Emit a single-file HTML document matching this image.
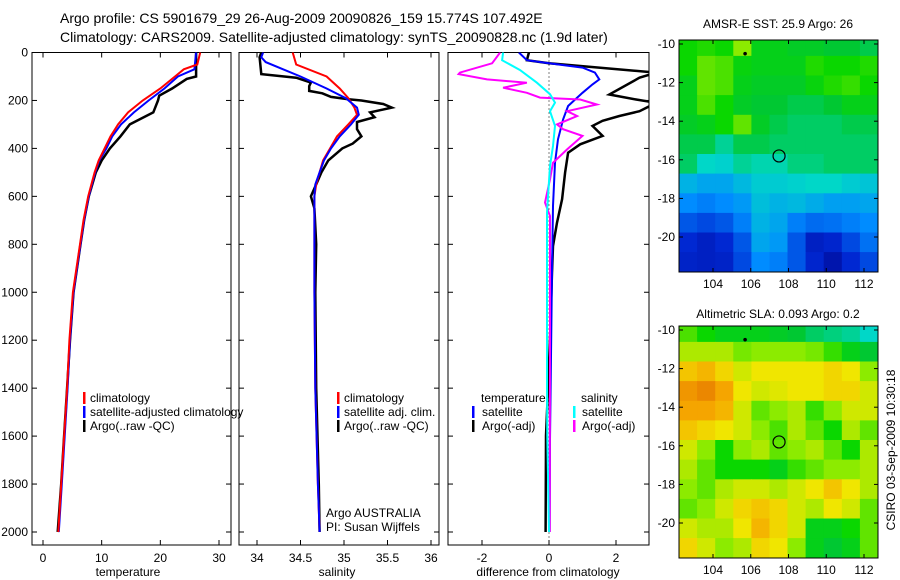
<!DOCTYPE html>
<html><head><meta charset="utf-8">
<style>
html,body{margin:0;padding:0;background:#fff;}
svg{display:block;font-family:"Liberation Sans",sans-serif;}
text{font-family:"Liberation Sans",sans-serif;}
</style></head>
<body>
<svg id="fig" width="900" height="580" viewBox="0 0 900 580">
<text x="60" y="23" font-size="14">Argo profile: CS 5901679_29 26-Aug-2009 20090826_159 15.774S 107.492E</text>
<text x="60" y="42" font-size="14">Climatology: CARS2009. Satellite-adjusted climatology: synTS_20090828.nc (1.9d later)</text>
<text x="778" y="28" font-size="12" text-anchor="middle">AMSR-E SST: 25.9 Argo: 26</text>
<text x="778" y="318" font-size="12" text-anchor="middle">Altimetric SLA: 0.093 Argo: 0.2</text>
<text transform="translate(895,450) rotate(-90)" font-size="12" text-anchor="middle">CSIRO 03-Sep-2009 10:30:18</text>
</svg>
<script>
// ---------- data ----------
const depthTicks=[0,200,400,600,800,1000,1200,1400,1600,1800,2000];
const tempTicks=[0,10,20,30];
const salTicks=[34,34.5,35,35.5,36];
const salTickLabels=["34","34.5","35","35.5","36"];
const diffTicks=[-2,0,2];
const lonTicks=[104,106,108,110,112];
const latTicks=[-10,-12,-14,-16,-18,-20];

const tClimDepth=[0,50,70,100,150,200,250,300,350,400,450,500,600,700,800,1000,1200,1400,1600,1800,2000];
const tClimVal=[26.8,26.3,24,22.5,20,17,14.5,12.8,11.5,10.5,9.5,8.8,7.7,6.9,6.3,5.1,4.5,4.1,3.6,3.1,2.6];
const tSatDepth=[0,70,100,150,200,250,300,350,400,450,500,600,700,800,1000,1200,1400,1600,1800,2000];
const tSatVal=[26.1,25.8,23,20.7,18,15.5,13.3,11.8,10.8,9.6,8.9,7.8,7.0,6.4,5.2,4.6,4.2,3.7,3.2,2.7];
const tArgoDepth=[0,100,110,150,180,200,250,300,350,400,450,500,600,700,800,1000,1200,1400,1600,1800,2000];
const tArgoVal=[26.1,26.1,24.5,22,19.8,19.6,18.8,14.8,13.2,11.4,10,9,7.8,7.0,6.4,5.2,4.6,4.1,3.6,3.1,2.5];

const sClimDepth=[0,50,100,150,190,230,260,300,350,400,450,500,550,600,1000,1400,1800,2000];
const sClimVal=[34.41,34.45,34.8,34.95,35.05,35.12,35.15,35.05,34.92,34.84,34.76,34.72,34.68,34.66,34.66,34.67,34.7,34.72];
const sSatDepth=[0,20,40,70,100,150,190,230,260,300,350,400,450,500,550,600,1000,1400,1800,2000];
const sSatVal=[34.07,34.05,34.1,34.3,34.5,34.8,35.02,35.15,35.17,35.08,34.95,34.85,34.77,34.72,34.67,34.66,34.66,34.67,34.7,34.72];
const sArgoDepth=[0,20,90,105,125,140,160,170,185,195,200,215,230,250,270,290,320,350,380,400,450,500,550,600,650,800,1000,1400,1800,2000];
const sArgoVal=[34.05,34.03,34.05,34.45,34.62,34.6,34.6,34.75,34.85,35.05,35.2,35.45,35.55,35.3,35.35,35.15,35.15,35.2,35.1,34.98,34.82,34.74,34.68,34.62,34.66,34.68,34.67,34.68,34.71,34.72];

const dTSatDepth=[0,32,45,63,84,112,133,168,223,279,362,460,640,918,1613,2000];
const dTSatVal=[-0.9,-0.66,0,1.0,1.37,1.5,1.3,1.0,0.57,0.42,0.27,0.18,0.12,0.09,0.03,0.02];
const dTArgoDepth=[0,32,45,84,105,175,196,210,245,265,285,306,348,383,418,501,612,710,807,918,1196,1404,1598,2000];
const dTArgoVal=[-0.6,-0.66,0,3.2,2.7,1.8,2.6,3.2,2.7,2.1,1.6,1.3,1.6,0.93,0.57,0.48,0.39,0.24,0.12,0.09,0.03,-0.03,-0.09,-0.1];
const dSArgoDepth=[0,45,84,90,112,126,147,168,188,196,217,245,265,300,320,348,404,460,529,626,682,1200,2000];
const dSArgoVal=[-1.46,-1.7,-2.66,-2.7,-1.85,-0.66,-1.37,-0.66,-0.27,0.93,1.43,0.54,0.84,0.24,0.42,1.0,0.54,0.12,0.03,-0.12,0.03,0.03,0.02];
const dSSatDepth=[0,32,73,126,174,209,245,306,390,473,668,1404,1600,2000];
const dSSatVal=[-1.37,-1.4,-0.87,-0.36,0.03,0.18,0.03,0.18,0.12,0.03,-0.06,-0.06,-0.05,0.0];

const sstGrid=[
[0.52,0.53,0.52,0.58,0.5,0.5,0.49,0.49,0.48,0.48,0.47],
[0.52,0.56,0.55,0.51,0.5,0.5,0.5,0.53,0.52,0.52,0.53],
[0.5,0.56,0.55,0.5,0.49,0.49,0.49,0.51,0.53,0.54,0.52],
[0.5,0.55,0.52,0.49,0.48,0.48,0.47,0.47,0.48,0.5,0.5],
[0.49,0.5,0.52,0.56,0.49,0.47,0.46,0.46,0.46,0.47,0.47],
[0.47,0.47,0.44,0.47,0.47,0.46,0.46,0.46,0.46,0.46,0.46],
[0.46,0.42,0.41,0.44,0.43,0.43,0.45,0.45,0.46,0.46,0.46],
[0.36,0.34,0.34,0.37,0.40,0.40,0.41,0.42,0.42,0.40,0.39],
[0.30,0.28,0.30,0.32,0.38,0.36,0.37,0.35,0.33,0.33,0.34],
[0.22,0.20,0.22,0.28,0.36,0.34,0.28,0.25,0.26,0.28,0.30],
[0.15,0.12,0.15,0.22,0.34,0.32,0.22,0.12,0.14,0.20,0.26],
[0.13,0.12,0.13,0.20,0.30,0.28,0.22,0.14,0.08,0.15,0.20]];
const slaGrid=[
[0.55,0.52,0.5,0.5,0.5,0.49,0.48,0.46,0.45,0.44,0.42],
[0.6,0.6,0.6,0.57,0.58,0.58,0.58,0.57,0.54,0.5,0.48],
[0.68,0.7,0.66,0.62,0.64,0.64,0.64,0.64,0.66,0.64,0.58],
[0.74,0.76,0.72,0.64,0.62,0.63,0.64,0.64,0.66,0.66,0.62],
[0.72,0.72,0.7,0.62,0.56,0.58,0.6,0.54,0.58,0.62,0.62],
[0.68,0.66,0.64,0.62,0.58,0.55,0.6,0.56,0.52,0.6,0.56],
[0.62,0.58,0.52,0.58,0.6,0.56,0.58,0.6,0.56,0.52,0.6],
[0.6,0.56,0.52,0.52,0.52,0.5,0.54,0.56,0.58,0.58,0.6],
[0.58,0.56,0.6,0.62,0.62,0.6,0.62,0.64,0.68,0.64,0.6],
[0.56,0.58,0.62,0.66,0.68,0.66,0.62,0.6,0.64,0.62,0.56],
[0.62,0.6,0.6,0.64,0.7,0.66,0.62,0.5,0.5,0.52,0.56],
[0.66,0.62,0.58,0.6,0.66,0.64,0.58,0.5,0.48,0.5,0.56]];
const argoLon=[107.5], argoLat=[-15.8];
const otherLon=[105.7], otherLat=[-10.5];

// ---------- helpers ----------
const NS="http://www.w3.org/2000/svg";
const svg=document.getElementById('fig');
function mk(tag,attrs,parent){const e=document.createElementNS(NS,tag);for(const k in attrs)e.setAttribute(k,attrs[k]);(parent||svg).appendChild(e);return e;}
function lin(d0,d1,r0,r1){return v=>r0+(v-d0)*(r1-r0)/(d1-d0);}
const yDepth=lin(0,2000,52.5,532);
const PT={x0:32,x1:231}, PS={x0:239,x1:439}, PD={x0:448,x1:649};
const TOP=52.5,BOT=545;
const xT=lin(0,30,43,219);
const xS=lin(34,36,257,431);
const xD=lin(0,2,549,616);

function frame(p,name){
  const r=mk('rect',{x:p.x0,y:TOP,width:p.x1-p.x0,height:BOT-TOP,fill:'none',stroke:'#000','stroke-width':1});
  
  
  depthTicks.forEach(d=>{const y=yDepth(d);
    mk('line',{x1:p.x0,x2:p.x0+5,y1:y,y2:y,stroke:'#000'});
    mk('line',{x1:p.x1,x2:p.x1-5,y1:y,y2:y,stroke:'#000'});});
}
function xticks(p,ticks,labels,fx,name){
  ticks.forEach((t,i)=>{const x=fx(t);
    mk('line',{x1:x,x2:x,y1:BOT,y2:BOT-5,stroke:'#000'});
    mk('line',{x1:x,x2:x,y1:TOP,y2:TOP+5,stroke:'#000'});
    const tx=mk('text',{x:x,y:562,'font-size':12,'text-anchor':'middle'});tx.textContent=labels[i];
    
    });
}
function line(depths,vals,fx,color,name,clip,w){
  const pts=depths.map((d,i)=>fx(vals[i]).toFixed(1)+','+yDepth(d).toFixed(1)).join(' ');
  const pl=mk('polyline',{points:pts,fill:'none',stroke:color,'stroke-width':w||2,'clip-path':'url(#'+clip+')'});
  
  
}
function txt(x,y,s,name,size,anchor){const t=mk('text',{x:x,y:y,'font-size':size||12,'text-anchor':anchor||'start'});t.textContent=s;
  
  return t;}
function legBar(x,y,color,name){const r=mk('rect',{x:x,y:y,width:2.5,height:12,fill:color});
  
  }

const defs=mk('defs',{});
[['cT',PT],['cS',PS],['cD',PD]].forEach(([id,p])=>{const c=mk('clipPath',{id:id},defs);mk('rect',{x:p.x0,y:TOP,width:p.x1-p.x0,height:BOT-TOP},c);});

// panel 1
frame(PT,'temperature-panel');
depthTicks.forEach(d=>{txt(28,yDepth(d)+4,String(d),'depth-tick-label',12,'end');});
xticks(PT,tempTicks,tempTicks.map(String),xT,'temperature');
line(tArgoDepth,tArgoVal,xT,'#000','temp-argo-line','cT',2.5);
line(tSatDepth,tSatVal,xT,'#0000ff','temp-satellite-line','cT');
line(tClimDepth,tClimVal,xT,'#ff0000','temp-climatology-line','cT');
txt(128,576,'temperature','temperature-axis-title',12,'middle');
legBar(83,392,'#f00','legend-climatology-swatch');txt(90,402,'climatology','legend-climatology');
legBar(83,406,'#00f','legend-satellite-swatch');txt(90,416,'satellite-adjusted climatology','legend-satellite-adjusted');
legBar(83,420,'#000','legend-argo-swatch');txt(90,430,'Argo(..raw -QC)','legend-argo');

// panel 2
frame(PS,'salinity-panel');
xticks(PS,salTicks,salTickLabels,xS,'salinity');
line(sArgoDepth,sArgoVal,xS,'#000','sal-argo-line','cS',2.5);
line(sClimDepth,sClimVal,xS,'#ff0000','sal-climatology-line','cS');
line(sSatDepth,sSatVal,xS,'#0000ff','sal-satellite-line','cS');
txt(337,576,'salinity','salinity-axis-title',12,'middle');
legBar(337,392,'#f00','legend2-climatology-swatch');txt(344,402,'climatology','legend2-climatology');
legBar(337,406,'#00f','legend2-satellite-swatch');txt(344,416,'satellite adj. clim.','legend2-satellite');
legBar(337,420,'#000','legend2-argo-swatch');txt(344,430,'Argo(..raw -QC)','legend2-argo');
txt(326,517,'Argo AUSTRALIA','float-owner-label');
txt(326,531,'PI: Susan Wijffels','pi-label');

// panel 3
frame(PD,'difference-panel');
xticks(PD,diffTicks,diffTicks.map(String),xD,'difference');
mk('line',{x1:xD(0),x2:xD(0),y1:TOP,y2:BOT,stroke:'#000','stroke-dasharray':'1,3','stroke-width':1});
line(dTArgoDepth,dTArgoVal,xD,'#000','diff-temp-argo-line','cD',2.5);
line(dTSatDepth,dTSatVal,xD,'#0000ff','diff-temp-satellite-line','cD');
line(dSArgoDepth,dSArgoVal,xD,'#ff00ff','diff-sal-argo-line','cD');
line(dSSatDepth,dSSatVal,xD,'#00ffff','diff-sal-satellite-line','cD');
txt(548,576,'difference from climatology','difference-axis-title',12,'middle');
txt(481,402,'temperature','legend3-temperature-header');
txt(581,402,'salinity','legend3-salinity-header');
legBar(472,406,'#00f','legend3-temp-sat-swatch');txt(482,416,'satellite','legend3-temp-sat');
legBar(472,420,'#000','legend3-temp-argo-swatch');txt(482,430,'Argo(-adj)','legend3-temp-argo');
legBar(573,406,'#0ff','legend3-sal-sat-swatch');txt(582,416,'satellite','legend3-sal-sat');
legBar(573,420,'#f0f','legend3-sal-argo-swatch');txt(582,430,'Argo(-adj)','legend3-sal-argo');

// maps
const cmapStops=[[0,[0,0,130]],[0.15,[0,40,210]],[0.3,[0,140,255]],[0.42,[0,215,200]],[0.48,[0,200,50]],[0.52,[10,215,0]],[0.58,[140,235,0]],[0.64,[240,230,0]],[0.72,[245,165,0]],[0.8,[225,105,0]],[1,[150,0,0]]];
function cmap(v){for(let i=1;i<cmapStops.length;i++){if(v<=cmapStops[i][0]){const [a,ca]=cmapStops[i-1],[b,cb]=cmapStops[i];const f=(v-a)/(b-a);
  return 'rgb('+ca.map((c,k)=>Math.round(c+(cb[k]-c)*f)).join(',')+')';}}return 'rgb(150,0,0)';}
function drawMap(grid,top,bot,name){
  const X0=679,X1=878;
  const xLon=lin(104,112,713,864);
  const yLat=lin(-10,-20,top+4,top+197);
  const lon0=102.2,lon1=112.74,lat0=-9.6,lat1=-21.8;
  const rows=grid.length,cols=grid[0].length;
  const dlon=(lon1-lon0)/cols,dlat=(lat0-lat1)/rows;
  const cp=mk('clipPath',{id:'clip-'+name},defs);mk('rect',{x:X0,y:top,width:X1-X0,height:bot-top},cp);
  const g=mk('g',{'clip-path':'url(#clip-'+name+')'});
  
  
  grid.forEach((row,r)=>row.forEach((v,c)=>{
    const xa=xLon(lon0+c*dlon),xb=xLon(lon0+(c+1)*dlon),ya=yLat(lat0-r*dlat),yb=yLat(lat0-(r+1)*dlat);
    const cell=mk('rect',{x:xa.toFixed(1),y:ya.toFixed(1),width:(xb-xa+0.6).toFixed(1),height:(yb-ya+0.6).toFixed(1),fill:cmap(v)},g);
    
    
  }));
  const fr=mk('rect',{x:X0,y:top,width:X1-X0,height:bot-top,fill:'none',stroke:'#000'});
  
  
  lonTicks.forEach(l=>{const x=xLon(l);mk('line',{x1:x,x2:x,y1:bot,y2:bot-4,stroke:'#000'});mk('line',{x1:x,x2:x,y1:top,y2:top+4,stroke:'#000'});
    txt(x,bot+16,String(l),name+'-lon-label',12,'middle');});
  latTicks.forEach(l=>{const y=yLat(l);mk('line',{x1:X0,x2:X0+4,y1:y,y2:y,stroke:'#000'});mk('line',{x1:X1,x2:X1-4,y1:y,y2:y,stroke:'#000'});
    txt(675,y+4,String(l),name+'-lat-label',12,'end');});
  argoLon.forEach((lo,i)=>{const c=mk('circle',{cx:xLon(lo),cy:yLat(argoLat[i]),r:6,fill:'none',stroke:'#000','stroke-width':1.2});
    
    });
  otherLon.forEach((lo,i)=>{const c=mk('circle',{cx:xLon(lo),cy:yLat(otherLat[i]),r:1.8,fill:'#000'});
    
    });
}
drawMap(sstGrid,40,272,'sst-map');
drawMap(slaGrid,326,558,'sla-map');
</script>
</body></html>
